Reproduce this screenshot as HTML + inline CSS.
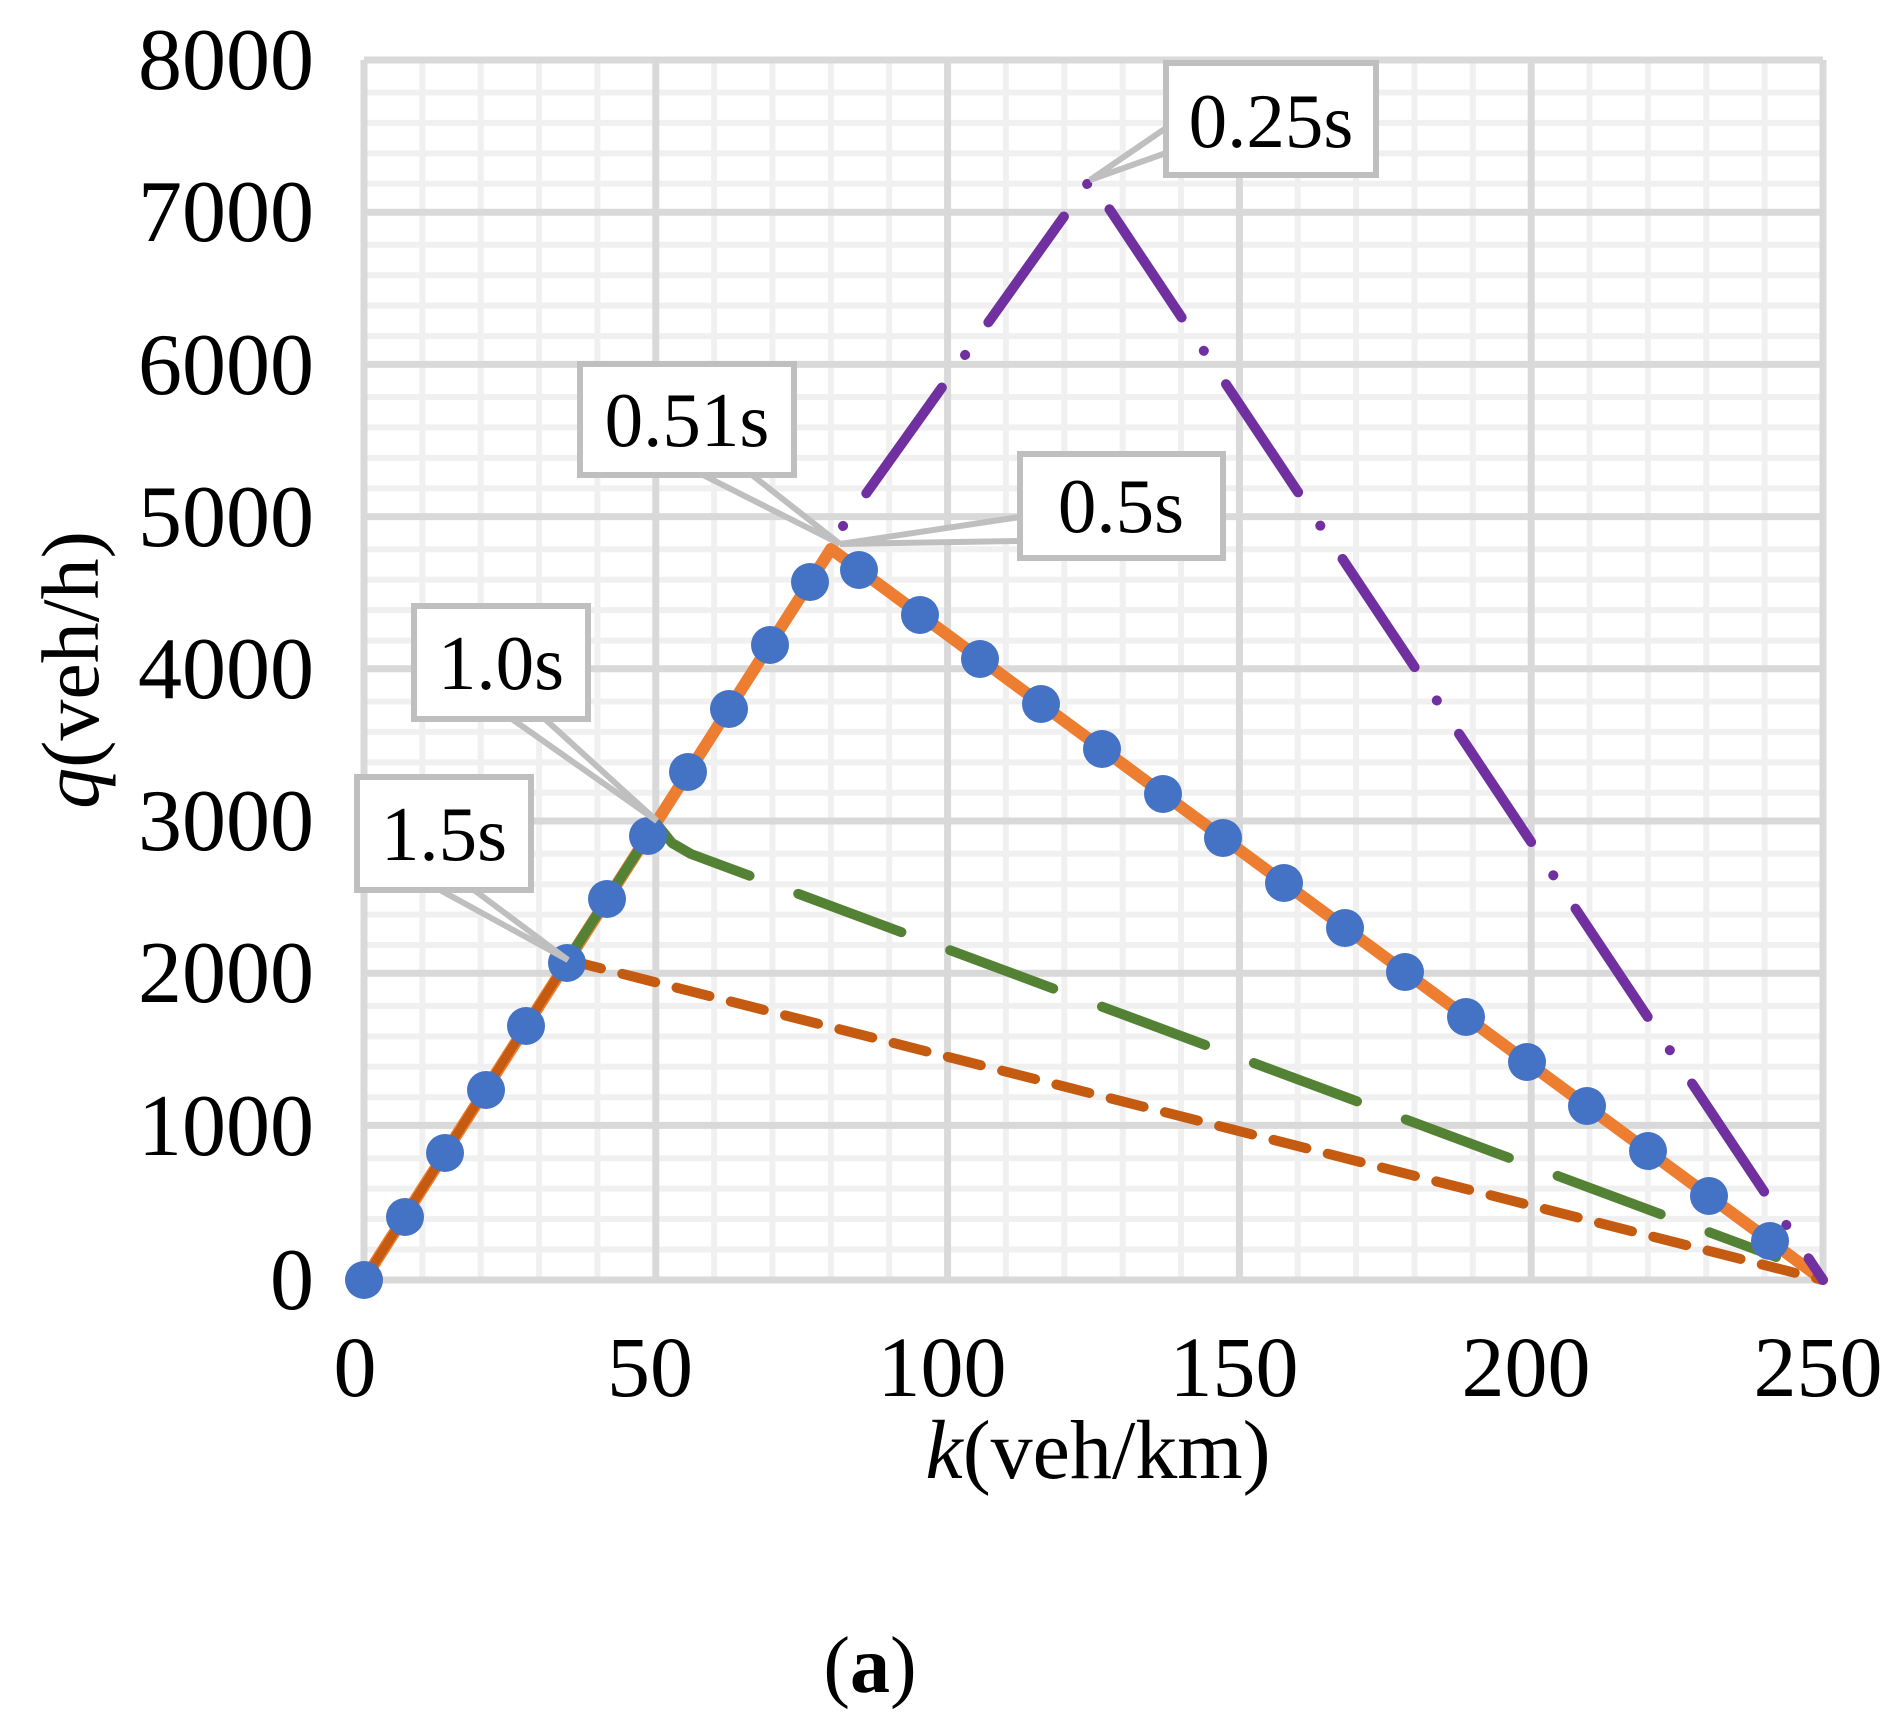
<!DOCTYPE html>
<html><head><meta charset="utf-8"><style>
html,body{margin:0;padding:0;background:#fff}
svg{display:block}
text{font-family:"Liberation Serif",serif;fill:#000}
</style></head><body>
<svg width="1899" height="1731" viewBox="0 0 1899 1731" xmlns="http://www.w3.org/2000/svg">
<rect width="1899" height="1731" fill="#fff"/>
<g stroke="#f0f0f0" stroke-width="6">
<path d="M422.4 60V1280M480.7 60V1280M539.1 60V1280M597.4 60V1280M714.1 60V1280M772.5 60V1280M830.9 60V1280M889.2 60V1280M1005.9 60V1280M1064.3 60V1280M1122.7 60V1280M1181 60V1280M1297.7 60V1280M1356.1 60V1280M1414.5 60V1280M1472.8 60V1280M1589.5 60V1280M1647.9 60V1280M1706.3 60V1280M1764.6 60V1280"/>
<path d="M364 1249.5H1823M364 1219H1823M364 1188.6H1823M364 1158.2H1823M364 1097.3H1823M364 1066.8H1823M364 1036.4H1823M364 1005.9H1823M364 945H1823M364 914.6H1823M364 884.2H1823M364 853.7H1823M364 792.8H1823M364 762.4H1823M364 731.9H1823M364 701.5H1823M364 640.6H1823M364 610.1H1823M364 579.7H1823M364 549.2H1823M364 488.3H1823M364 457.9H1823M364 427.4H1823M364 397H1823M364 336.1H1823M364 305.6H1823M364 275.2H1823M364 244.8H1823M364 183.8H1823M364 153.4H1823M364 122.9H1823M364 92.5H1823"/>
</g>
<g stroke="#d9d9d9" stroke-width="7">
<path d="M364 60V1280M655.8 60V1280M947.6 60V1280M1239.4 60V1280M1531.2 60V1280M1823 60V1280"/>
<path d="M364 60H1823M364 212.2H1823M364 364.4H1823M364 516.6H1823M364 668.8H1823M364 821H1823M364 973.2H1823M364 1125.4H1823M364 1280H1823"/>
</g>
<g font-size="88" text-anchor="end">
<text x="314" y="89">8000</text>
<text x="314" y="241">7000</text>
<text x="314" y="394">6000</text>
<text x="314" y="546">5000</text>
<text x="314" y="698">4000</text>
<text x="314" y="850">3000</text>
<text x="314" y="1002">2000</text>
<text x="314" y="1155">1000</text>
<text x="314" y="1309">0</text>
</g>
<g font-size="86" text-anchor="middle">
<text x="355" y="1396">0</text>
<text x="650" y="1396">50</text>
<text x="942" y="1396">100</text>
<text x="1234" y="1396">150</text>
<text x="1526" y="1396">200</text>
<text x="1818" y="1396">250</text>
</g>
<text x="1098" y="1478" font-size="84" text-anchor="middle"><tspan font-style="italic">k</tspan>(veh/km)</text>
<text transform="translate(98,670) rotate(-90)" font-size="82" text-anchor="middle"><tspan font-style="italic">q</tspan>(veh/h)</text>
<text x="870" y="1692" font-size="80" text-anchor="middle">(<tspan font-weight="bold">a</tspan>)</text>

<polyline points="364,1280 656,823" fill="none" stroke="#548235" stroke-width="10"/>
<polyline points="364,1280 831,549 1823,1280" fill="none" stroke="#ed7d31" stroke-width="12" stroke-linejoin="round"/>
<polyline points="364,1280 568,960" fill="none" stroke="#c55a11" stroke-width="9"/>
<polyline points="568,960 1823,1280" fill="none" stroke="#c55a11" stroke-width="10" stroke-dasharray="34 22" stroke-linecap="round"/>
<polyline points="560,972 656,823" fill="none" stroke="#548235" stroke-width="10"/>
<polyline points="656,823 672,843 691,854 1776,1257" fill="none" stroke="#548235" stroke-width="10" stroke-dasharray="110 52" stroke-linecap="round" stroke-linejoin="round"/>
<polyline points="843,526 1090,180 1823,1280" fill="none" stroke="#7030a0" stroke-width="10" stroke-dasharray="0.1 40 130 40" stroke-linecap="round" stroke-linejoin="round"/>

<g fill="#4472c4">
<circle cx="364" cy="1280" r="19"/><circle cx="405" cy="1217" r="19"/><circle cx="445" cy="1153" r="19"/><circle cx="486" cy="1090" r="19"/><circle cx="526" cy="1026" r="19"/><circle cx="567" cy="963" r="19"/><circle cx="607" cy="899" r="19"/><circle cx="648" cy="836" r="19"/><circle cx="688" cy="772" r="19"/><circle cx="729" cy="709" r="19"/><circle cx="770" cy="645" r="19"/><circle cx="810" cy="582" r="19"/>
<circle cx="859" cy="570" r="19"/><circle cx="920" cy="615" r="19"/><circle cx="980" cy="659" r="19"/><circle cx="1041" cy="704" r="19"/><circle cx="1102" cy="749" r="19"/><circle cx="1163" cy="794" r="19"/><circle cx="1223" cy="838" r="19"/><circle cx="1284" cy="883" r="19"/><circle cx="1345" cy="928" r="19"/><circle cx="1405" cy="972" r="19"/><circle cx="1466" cy="1017" r="19"/><circle cx="1527" cy="1062" r="19"/><circle cx="1587" cy="1106" r="19"/><circle cx="1648" cy="1151" r="19"/><circle cx="1709" cy="1196" r="19"/><circle cx="1770" cy="1241" r="19"/>
</g>

<g stroke="#bfbfbf" stroke-width="6" fill="#fff" stroke-linejoin="miter">
<polygon points="1166,128 1090,180 1166,153"/>
<rect x="1166" y="63" width="210" height="112"/>
<polygon points="703,475 840,544 752,475"/>
<rect x="580" y="364" width="214" height="111"/>
<polygon points="1020,517 840,544 1020,541"/>
<rect x="1020" y="454" width="203" height="104"/>
<polygon points="512,719 657,821 545,719"/>
<rect x="414" y="606" width="174" height="113"/>
<polygon points="440,890 568,960 474,890"/>
<rect x="357" y="777" width="174" height="113"/>
</g>
<g font-size="77" text-anchor="middle">
<text x="1271" y="147">0.25s</text>
<text x="687" y="446">0.51s</text>
<text x="1121" y="532">0.5s</text>
<text x="501" y="689">1.0s</text>
<text x="444" y="860">1.5s</text>
</g>
</svg>
</body></html>
